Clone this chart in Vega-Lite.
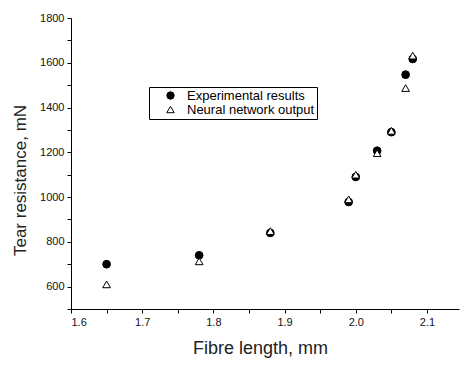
{
  "$schema": "https://vega.github.io/schema/vega-lite/v6.json",
  "autosize": {"type": "none"},
  "padding": {"left": 71, "top": 18, "right": 1, "bottom": 56},
  "width": 388,
  "height": 291,
  "background": "white",
  "config": {
    "view": {"stroke": null},
    "font": "Liberation Sans",
    "axis": {"grid": false, "domainColor": "black", "tickColor": "black", "labelColor": "#111", "titleColor": "#222", "labelFont": "Liberation Sans", "titleFont": "Liberation Sans", "titleFontWeight": "normal", "labelFontSize": 11, "titleFontSize": 16}
  },
  "data": {
    "values": [
      {"x": 1.65, "y": 700, "s": "Experimental results"},
      {"x": 1.78, "y": 740, "s": "Experimental results"},
      {"x": 1.88, "y": 840, "s": "Experimental results"},
      {"x": 1.99, "y": 978, "s": "Experimental results"},
      {"x": 2.00, "y": 1090, "s": "Experimental results"},
      {"x": 2.03, "y": 1207, "s": "Experimental results"},
      {"x": 2.05, "y": 1290, "s": "Experimental results"},
      {"x": 2.07, "y": 1547, "s": "Experimental results"},
      {"x": 2.08, "y": 1617, "s": "Experimental results"},
      {"x": 1.65, "y": 610, "s": "Neural network output"},
      {"x": 1.78, "y": 713, "s": "Neural network output"},
      {"x": 1.88, "y": 848, "s": "Neural network output"},
      {"x": 1.99, "y": 990, "s": "Neural network output"},
      {"x": 2.00, "y": 1100, "s": "Neural network output"},
      {"x": 2.03, "y": 1196, "s": "Neural network output"},
      {"x": 2.05, "y": 1296, "s": "Neural network output"},
      {"x": 2.07, "y": 1487, "s": "Neural network output"},
      {"x": 2.08, "y": 1632, "s": "Neural network output"}
    ]
  },
  "mark": {"type": "point", "filled": true, "stroke": "black", "strokeWidth": 1, "size": 60, "opacity": 1},
  "encoding": {
    "x": {
      "field": "x", "type": "quantitative",
      "scale": {"domain": [1.6, 2.145], "nice": false, "zero": false},
      "axis": {"values": [1.6, 1.65, 1.7, 1.75, 1.8, 1.85, 1.9, 1.95, 2.0, 2.05, 2.1], "labelExpr": "(round(datum.value*100) % 10 == 0) ? format(datum.value, '.1f') : ''", "tickSize": 4, "labelPadding": 3, "title": "Fibre length, mm", "titleFontSize": 18, "titlePadding": 12, "titleX": 189}
    },
    "y": {
      "field": "y", "type": "quantitative",
      "scale": {"domain": [500, 1800], "nice": false, "zero": false},
      "axis": {"values": [500, 600, 700, 800, 900, 1000, 1100, 1200, 1300, 1400, 1500, 1600, 1700, 1800], "labelExpr": "(datum.value % 200 == 0) ? datum.value : ''", "tickSize": 4, "labelPadding": 3, "title": "Tear resistance, mN", "titleFontSize": 17, "titlePadding": 10, "titleY": 162}
    },
    "shape": {
      "field": "s", "type": "nominal",
      "scale": {"domain": ["Experimental results", "Neural network output"], "range": ["circle", "triangle-up"]},
      "legend": {"title": null, "orient": "none", "legendX": 78, "legendY": 69, "strokeColor": "black", "padding": 2, "labelFontSize": 13, "labelColor": "black", "symbolSize": 55, "symbolStrokeWidth": 1, "rowPadding": 0, "labelOffset": 10, "symbolOffset": 13, "fillColor": "white",
        "encode": {"symbols": {"update": {"stroke": {"value": "black"}, "strokeWidth": {"value": 1}}}}}
    },
    "fill": {
      "field": "s", "type": "nominal",
      "scale": {"domain": ["Experimental results", "Neural network output"], "range": ["black", "white"]},
      "legend": {"title": null, "orient": "none", "legendX": 78, "legendY": 69, "strokeColor": "black", "padding": 2, "labelFontSize": 13, "labelColor": "black", "symbolSize": 55, "symbolStrokeWidth": 1, "rowPadding": 0, "labelOffset": 10, "symbolOffset": 13, "fillColor": "white",
        "encode": {"symbols": {"update": {"stroke": {"value": "black"}, "strokeWidth": {"value": 1}}}}}
    }
  }
}
